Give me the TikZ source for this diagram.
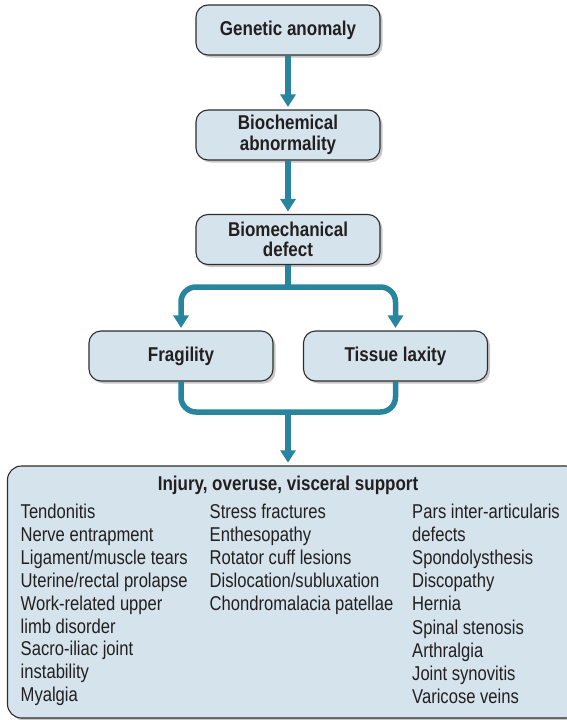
\documentclass[tikz,border=0pt]{standalone}
\usepackage{fontspec}
\setmainfont{Liberation Sans}
\newfontfamily\itemfont[FakeStretch=0.83]{Liberation Sans}
\newfontfamily\labfont[FakeStretch=0.85]{Liberation Sans}
\usetikzlibrary{arrows.meta,shadows}
\definecolor{boxfill}{RGB}{213,228,236}
\definecolor{arrowteal}{RGB}{39,133,158}
\definecolor{txt}{RGB}{35,31,32}
\definecolor{edgegray}{RGB}{45,45,45}
\tikzset{
  boxshadow/.style={drop shadow={shadow xshift=2.5pt, shadow yshift=-2.5pt, opacity=0.22, fill=black}},
  flowbox/.style={draw=edgegray, line width=1.1pt, fill=boxfill, rounded corners=12pt,
    minimum width=184pt, minimum height=50pt, align=center, text=txt, inner sep=2pt,
    font=\labfont\bfseries\fontsize{20}{20.5}\selectfont, boxshadow},
  bigbox/.style={draw=edgegray, line width=1.1pt, fill=boxfill, rounded corners=14pt,
    minimum width=572.5pt, minimum height=252pt, inner sep=0pt, boxshadow},
  titletext/.style={anchor=base, inner sep=0pt, text=txt,
    font=\labfont\bfseries\fontsize{20}{20.5}\selectfont},
  item/.style={anchor=base west, inner sep=0pt, text=txt,
    font=\itemfont\fontsize{20}{22.9}\selectfont},
  flowline/.style={draw=arrowteal, line width=5.5pt},
  flowarrow/.style={flowline, -{Triangle[width=15pt,length=12.5pt]}, shorten >=2.5pt},
}
\begin{document}
\begin{tikzpicture}[x=1pt,y=-1pt]
\useasboundingbox (0,0) rectangle (567,720);
\begin{scope}
\clip (0,0) rectangle (567,720);
% boxes
\node[flowbox] (gen) at (288,30) {Genetic anomaly};
\node[flowbox, text depth=4pt] (bioc) at (288,135) {Biochemical\\abnormality};
\node[flowbox] (biom) at (288,239.5) {Biomechanical\\defect};
\node[flowbox] (frag) at (181,356) {Fragility};
\node[flowbox] (lax) at (395.5,356) {Tissue laxity};
\node[bigbox] (big) at (293.75,592) {};
% connectors
\draw[flowarrow] (gen.south) -- (bioc.north);
\draw[flowarrow] (bioc.south) -- (biom.north);
\coordinate (fj) at (288,287);
\draw[flowline] (biom.south) -- (fj);
\draw[flowarrow, rounded corners=15pt] (fj) -| (frag.north);
\draw[flowarrow, rounded corners=15pt] (fj) -| (lax.north);
\coordinate (mj) at (288,412);
\draw[flowline, rounded corners=15pt] (frag.south) |- (mj) -| (lax.south);
\draw[flowarrow, shorten >=2.7pt] (mj) -- (mj |- big.north);
% texts in the big box
\node[titletext] (ttl) at (288,490) {Injury, overuse, visceral support};
\foreach [count=\i] \t in {Tendonitis, Nerve entrapment, Ligament/muscle tears,
  Uterine/rectal prolapse, Work-related upper, limb disorder, Sacro-iliac joint,
  instability, Myalgia}
  \node[item] (ca\i) at (20.5,518.5+22.9*\i-22.9) {\t};
\foreach [count=\i] \t in {Stress fractures, Enthesopathy, Rotator cuff lesions,
  Dislocation/subluxation, Chondromalacia patellae}
  \node[item] (cb\i) at (209.5,518.5+22.9*\i-22.9) {\t};
\foreach [count=\i] \t in {Pars inter-articularis, defects, Spondolysthesis,
  Discopathy, Hernia, Spinal stenosis, Arthralgia, Joint synovitis, Varicose veins}
  \node[item] (cc\i) at (412,518.5+23.1*\i-23.1) {\t};
\end{scope}
\end{tikzpicture}
\end{document}
